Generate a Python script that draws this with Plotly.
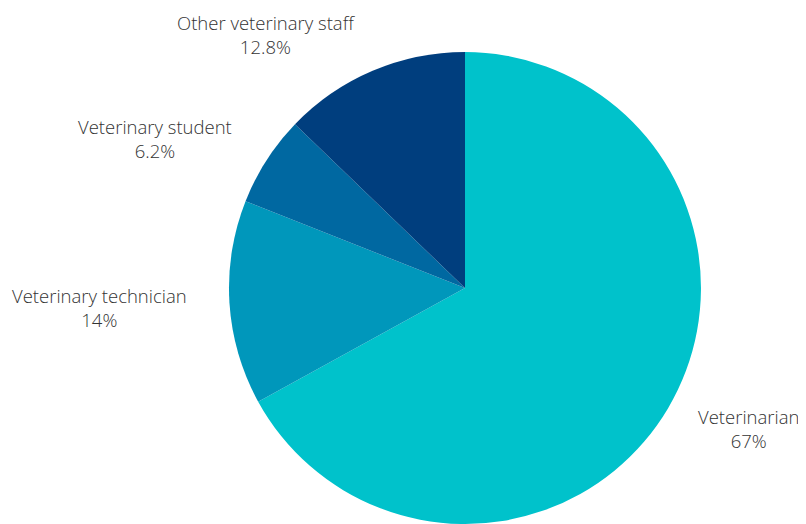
import plotly.graph_objects as go

labels = ["Veterinarian", "Veterinary technician", "Veterinary student", "Other veterinary staff"]
values = [67, 14, 6.2, 12.8]
colors = ["#00C2CB", "#0097BB", "#0068A1", "#003E7E"]

# label anchor positions (paper coords) for each slice label
label_pos = [(0.9279, 0.1860), (0.1147, 0.4196), (0.1836, 0.7471), (0.3239, 0.9496)]

fig = go.Figure(go.Pie(
    labels=labels,
    values=values,
    sort=False,
    direction="clockwise",
    rotation=0,
    marker=dict(colors=colors, line=dict(width=0)),
    textinfo="none",
    hoverinfo="label+percent",
    showlegend=False,
    domain=dict(x=[0.2769, 0.8684], y=[0.0, 0.9147]),
))

for lab, val, (px, py) in zip(labels, values, label_pos):
    fig.add_annotation(
        x=px, y=py, xref="paper", yref="paper",
        xanchor="center", yanchor="middle",
        text=f"{lab}<br>{val:g}%",
        showarrow=False, align="center",
        font=dict(family="Open Sans", size=18.5, color="#333333", weight=300),
    )

fig.update_layout(
    width=798, height=516,
    margin=dict(l=0, r=0, t=0, b=0),
    paper_bgcolor="white",
    plot_bgcolor="white",
)
fig.write_html("out.html", post_script="document.body.style.overflow='hidden';")
